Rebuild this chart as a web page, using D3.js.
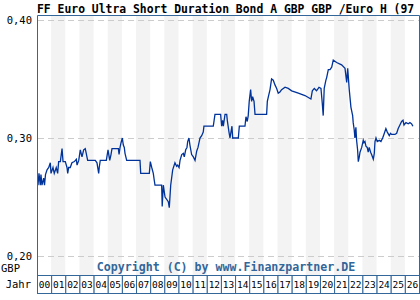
<!DOCTYPE html>
<html>
<head>
<meta charset="utf-8">
<script src="https://cdn.jsdelivr.net/npm/d3@7"></script>
<style>
  body { margin: 0; background: #fff; }
  svg text { font-family: "DejaVu Sans Mono", monospace; }
</style>
</head>
<body>
<div id="chart"></div>
<script>
// fund price in GBP, time as decimal years
var yrs = [2000.07, 2000.14, 2000.23, 2000.28, 2000.35, 2000.47, 2000.53, 2000.60, 2000.71, 2000.83,
  2000.94, 2000.99, 2001.13, 2001.22, 2001.36, 2001.46, 2001.53, 2001.65, 2001.77, 2001.84,
  2002.00, 2002.12, 2002.17, 2002.24, 2002.35, 2002.47, 2002.64, 2002.78, 2002.83, 2002.95,
  2003.06, 2003.18, 2003.30, 2003.41, 2003.48, 2003.58, 2004.01, 2004.12, 2004.24, 2004.36,
  2004.40, 2004.47, 2004.90, 2005.02, 2005.14, 2005.23, 2005.30, 2005.65, 2005.75, 2005.80,
  2005.87, 2005.94, 2006.03, 2006.10, 2006.17, 2006.22, 2006.34, 2007.28, 2007.33, 2007.94,
  2008.01, 2008.11, 2008.22, 2008.29, 2008.34, 2008.81, 2008.85, 2008.93, 2009.05, 2009.28,
  2009.35, 2009.45, 2009.59, 2009.75, 2009.87, 2009.94, 2010.04, 2010.11, 2010.23, 2010.34,
  2010.41, 2010.51, 2010.60, 2010.65, 2010.74, 2010.81, 2010.93, 2011.05, 2011.17, 2011.29,
  2011.38, 2011.52, 2011.64, 2011.75, 2011.80, 2012.46, 2012.58, 2012.98, 2013.05, 2013.12,
  2013.17, 2013.29, 2013.41, 2013.45, 2013.57, 2013.64, 2013.71, 2013.78, 2013.83, 2014.23,
  2014.30, 2014.70, 2014.77, 2014.86, 2014.93, 2015.00, 2015.10, 2015.17, 2015.24, 2015.34,
  2015.41, 2016.23, 2016.28, 2016.37, 2016.47, 2016.58, 2016.70, 2016.82, 2016.94, 2017.05,
  2017.17, 2017.29, 2017.53, 2017.76, 2018.00, 2018.47, 2018.94, 2019.36, 2019.46, 2019.60,
  2019.76, 2019.93, 2020.07, 2020.16, 2020.23, 2020.30, 2020.42, 2020.47, 2020.59, 2020.71,
  2020.83, 2020.94, 2021.18, 2021.53, 2021.77, 2021.89, 2021.96, 2022.07, 2022.19, 2022.31,
  2022.35, 2022.42, 2022.47, 2022.54, 2022.59, 2022.66, 2022.71, 2022.78, 2022.83, 2022.95,
  2023.06, 2023.11, 2023.18, 2023.25, 2023.34, 2023.41, 2023.48, 2023.58, 2023.65, 2023.77,
  2023.84, 2023.89, 2023.96, 2024.05, 2024.19, 2024.31, 2024.43, 2024.52, 2024.66, 2024.76,
  2024.90, 2024.99, 2025.06, 2025.18, 2025.30, 2025.42, 2025.53, 2025.65, 2025.77, 2025.87,
  2025.94, 2026.08, 2026.24, 2026.36, 2026.48, 2026.57];
var vals = [0.260, 0.270, 0.260, 0.269, 0.260, 0.266, 0.260, 0.269, 0.273, 0.275,
  0.279, 0.270, 0.275, 0.270, 0.275, 0.270, 0.280, 0.280, 0.291, 0.280,
  0.280, 0.275, 0.270, 0.275, 0.275, 0.279, 0.280, 0.282, 0.277, 0.281,
  0.290, 0.284, 0.290, 0.291, 0.287, 0.281, 0.281, 0.281, 0.279, 0.270,
  0.275, 0.281, 0.281, 0.290, 0.281, 0.286, 0.291, 0.291, 0.291, 0.286,
  0.292, 0.296, 0.300, 0.294, 0.292, 0.287, 0.281, 0.281, 0.270, 0.270,
  0.280, 0.275, 0.270, 0.264, 0.260, 0.260, 0.242, 0.260, 0.250, 0.246,
  0.241, 0.260, 0.273, 0.279, 0.276, 0.277, 0.275, 0.281, 0.286, 0.287,
  0.284, 0.290, 0.292, 0.297, 0.300, 0.294, 0.286, 0.284, 0.281, 0.289,
  0.292, 0.300, 0.302, 0.305, 0.310, 0.310, 0.320, 0.320, 0.310, 0.315,
  0.310, 0.320, 0.320, 0.315, 0.305, 0.300, 0.305, 0.310, 0.300, 0.300,
  0.310, 0.310, 0.318, 0.314, 0.319, 0.331, 0.341, 0.331, 0.335, 0.331,
  0.320, 0.320, 0.331, 0.336, 0.341, 0.350, 0.349, 0.345, 0.342, 0.338,
  0.339, 0.341, 0.343, 0.342, 0.340, 0.338, 0.336, 0.333, 0.340, 0.342,
  0.340, 0.343, 0.342, 0.330, 0.319, 0.342, 0.349, 0.351, 0.358, 0.358,
  0.360, 0.366, 0.364, 0.362, 0.359, 0.347, 0.359, 0.341, 0.326, 0.319,
  0.313, 0.307, 0.300, 0.309, 0.298, 0.290, 0.280, 0.284, 0.288, 0.292,
  0.298, 0.296, 0.297, 0.293, 0.292, 0.288, 0.292, 0.288, 0.286, 0.282,
  0.287, 0.297, 0.300, 0.297, 0.298, 0.297, 0.300, 0.303, 0.308, 0.305,
  0.302, 0.304, 0.303, 0.303, 0.303, 0.304, 0.308, 0.311, 0.314, 0.315,
  0.311, 0.313, 0.312, 0.313, 0.312, 0.310];
var yearLabels = ['00','01','02','03','04','05','06','07','08','09','10','11','12','13',
  '14','15','16','17','18','19','20','21','22','23','24','25','26'];
var yTicks = [0.20, 0.30, 0.40];

var W = 420, H = 300;
var plotLeft = 37, plotRight = 419, plotTop = 15, plotBottom = 275;
var frame = '#336699';

var svg = d3.select('#chart').append('svg')
    .attr('width', W).attr('height', H);

var x = d3.scaleLinear().domain([2000, 2000 + yearLabels.length]).range([plotLeft, plotRight]);
var y = d3.scaleLinear().domain([0.20, 0.40]).range([256, 20]);
var cw = x(2001) - x(2000);

// alternating year bands (odd years shaded)
var oddYears = d3.range(yearLabels.length).filter(function(i) { return i % 2 == 1; });
svg.selectAll('rect.band').data(oddYears).enter()
    .append('rect').attr('class', 'band')
    .attr('x', function(i) { return x(2000 + i); })
    .attr('y', plotTop).attr('width', cw).attr('height', plotBottom - plotTop)
    .attr('fill', '#f3f3f3');

// dashed grid
svg.selectAll('line.grid').data(yTicks).enter()
    .append('line').attr('class', 'grid')
    .attr('x1', plotLeft + 1).attr('x2', plotRight)
    .attr('y1', function(d) { return Math.round(y(d)) + 0.5; })
    .attr('y2', function(d) { return Math.round(y(d)) + 0.5; })
    .attr('stroke', '#cccccc').attr('stroke-dasharray', '6,4');

// y labels
svg.selectAll('text.ylab').data(yTicks).enter()
    .append('text').attr('class', 'ylab')
    .attr('x', 32).attr('y', function(d) { return y(d) + 4; })
    .attr('text-anchor', 'end').attr('font-size', 10.5).attr('fill', '#000')
    .text(function(d) { return d3.format('.2f')(d).replace('.', ','); });

// price line
var pts = yrs.map(function(t, i) { return [t, vals[i]]; });
svg.append('path').datum(pts)
    .attr('fill', 'none').attr('stroke', '#003399').attr('stroke-width', 1.3)
    .attr('d', d3.line().x(function(d) { return x(d[0]); }).y(function(d) { return y(d[1]); }));

// frame
svg.append('path')
    .attr('d', 'M' + (plotLeft + 0.5) + ',' + plotBottom + 'V' + (plotTop + 0.5) +
      'H' + (plotRight + 0.5) + 'V' + plotBottom)
    .attr('fill', 'none').attr('stroke', frame).attr('stroke-width', 1);

// copyright
svg.append('text').attr('x', 226).attr('y', 271)
    .attr('text-anchor', 'middle').attr('font-size', 11.6).attr('font-weight', 'bold')
    .attr('fill', '#336699').text('Copyright (C) by www.Finanzpartner.DE');

// year boxes
var yb = svg.selectAll('g.yr').data(yearLabels).enter().append('g').attr('class', 'yr');
yb.append('rect')
    .attr('x', function(d, i) { return x(2000 + i) + 0.5; })
    .attr('y', plotBottom + 0.5).attr('width', cw).attr('height', 18)
    .attr('fill', '#fff').attr('stroke', frame).attr('stroke-width', 1);
yb.append('text')
    .attr('x', function(d, i) { return x(2000 + i) + cw / 2 + 0.5; })
    .attr('y', 288).attr('text-anchor', 'middle').attr('font-size', 9.5)
    .attr('fill', '#000').text(function(d) { return d; });

svg.append('text').attr('x', 1).attr('y', 272).attr('font-size', 10.5).text('GBP');
svg.append('text').attr('x', 31).attr('y', 288).attr('text-anchor', 'end')
    .attr('font-size', 10.5).text('Jahr');

// title
svg.append('text').attr('x', 37).attr('y', 12.5)
    .attr('font-size', 11.4).attr('font-weight', 'bold').attr('fill', '#000')
    .text('FF Euro Ultra Short Duration Bond A GBP GBP /Euro H (97');
</script>
</body>
</html>
